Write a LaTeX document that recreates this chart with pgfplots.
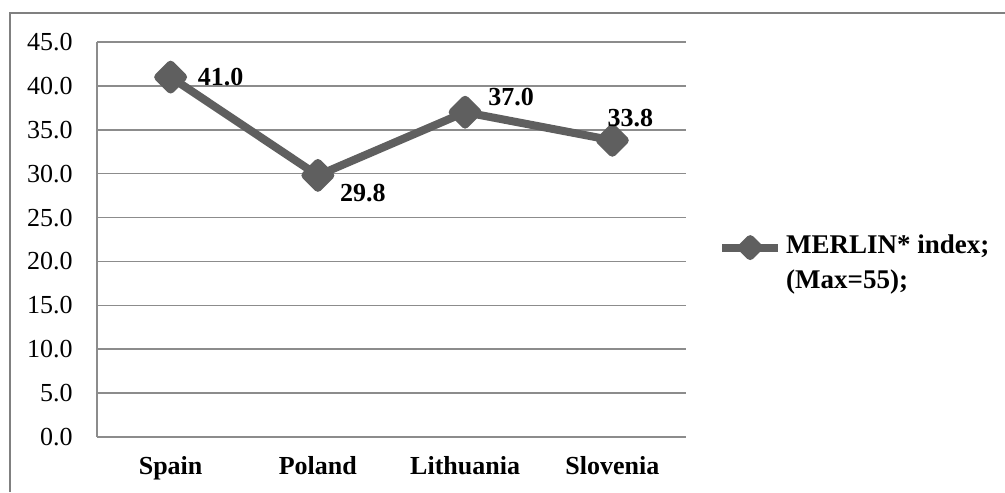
\documentclass[border=0pt]{standalone}
\usepackage{pgfplots}
\pgfplotsset{compat=1.18}
\usepackage{pgfplotstable}
\usepackage{fontspec}
\setmainfont{Liberation Serif}
\definecolor{lineclr}{RGB}{95,95,95}
\definecolor{gridclr}{RGB}{140,140,140}
\definecolor{frameclr}{RGB}{128,128,128}
\pgfplotstableread{
x y dx dy
0 41.0 25 0
1 29.8 22.5 -9
2 37.0 23 7.5
3 33.8 9 11
}\data
\begin{document}
\begin{tikzpicture}[font=\fontsize{13}{15.6}\selectfont]
\useasboundingbox (0,0) rectangle (502.5pt,246pt);
\draw[frameclr, line width=0.8pt] (5pt,0pt) -- (5pt,239.5pt) -- (502.5pt,239.5pt);
\begin{axis}[
  at={(48.5pt,27.5pt)}, anchor=south west,
  scale only axis, width=294.5pt, height=197.5pt,
  xmin=-0.5, xmax=3.5, ymin=0, ymax=45,
  xtick={0,1,2,3}, xticklabels={Spain,Poland,Lithuania,Slovenia},
  xticklabel style={font=\fontsize{13}{15.6}\selectfont\bfseries, anchor=base, yshift=-19pt},
  ytick={0,5,...,45},
  yticklabel style={anchor=east, inner sep=0pt, xshift=-12pt},
  /pgf/number format/.cd, fixed, fixed zerofill, precision=1, assume math mode=true,
  /pgfplots/.cd,
  axis x line*=bottom, axis y line*=left,
  axis line style={gridclr, line width=0.75pt},
  major tick length=0pt, tick style={draw=none},
  ymajorgrids, grid style={gridclr, line width=0.75pt},
  clip=false,
  legend style={at={(1.054,0.439)}, anchor=west, draw=none, fill=none, inner sep=0pt,
    font=\fontsize{13.5}{17.5}\selectfont\bfseries, cells={align=left}},
  legend image code/.code={\draw[#1, mark repeat=2, mark phase=2, mark size=3pt, yshift=8pt] plot coordinates {(0pt,0pt) (14pt,0pt) (28pt,0pt)};},
]
\addplot[lineclr, line width=4pt, line join=round, mark=square*, mark size=4.4pt,
  mark options={rotate=45, solid, fill=lineclr},
  nodes near coords, point meta=explicit symbolic,
  visualization depends on={\thisrow{dx} \as \dx},
  visualization depends on={\thisrow{dy} \as \dy},
  every node near coord/.append style={anchor=center, xshift=\dx pt, yshift=\dy pt,
    font=\fontsize{13}{15.6}\selectfont\bfseries, text=black}]
  table[x=x, y=y, meta=y]{\data};
\addlegendentry{MERLIN* index;\\(Max=55);}
\end{axis}
\end{tikzpicture}
\end{document}
